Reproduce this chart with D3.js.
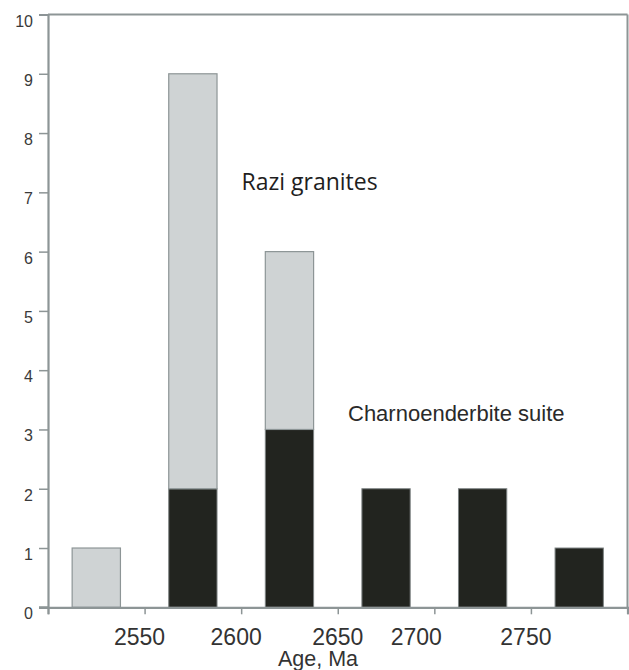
<!DOCTYPE html>
<html>
<head>
<meta charset="utf-8">
<script src="https://cdn.jsdelivr.net/npm/d3@7"></script>
<style>
  html, body { margin: 0; padding: 0; background: #fff; }
  svg { display: block; }
</style>
</head>
<body>
<svg id="chart" width="629" height="670"></svg>
<script>
// Age bins (Ma), lower edges; each bin is 50 Ma wide
const binStarts = [2500, 2550, 2600, 2650, 2700, 2750];
const binWidth = 50;
// Counts per bin for each group (stacked: charnoenderbite below, Razi on top)
const charnoenderbite = [0, 2, 3, 2, 2, 1];
const razi = [1, 7, 3, 0, 0, 0];
// Axis ticks
const yTicks = [0, 1, 2, 3, 4, 5, 6, 7, 8, 9, 10];
const xTickValues = [2500, 2550, 2600, 2650, 2700, 2750, 2800];
const xTickLabels = [2550, 2600, 2650, 2700, 2750];
// Small horizontal nudges for the age labels (px)
const xLabelNudge = [-5, -5, 0, -18, -5];

const svg = d3.select("#chart");
const axisColor = "#8d9596";

const x = d3.scaleLinear().domain([2500, 2800]).range([48, 627.5]);
const y = d3.scaleLinear().domain([0, 10]).range([607.3, 14.5]);

const rows = binStarts.map((b, i) => ({ start: b, low: charnoenderbite[i], high: razi[i] }));

const barInset = 12.5;
const g = svg.append("g");

// Lower segments: charnoenderbite suite
g.selectAll("rect.ch").data(rows.filter(d => d.low > 0)).join("rect")
  .attr("class", "ch")
  .attr("x", d => x(d.start + barInset))
  .attr("width", d => x(d.start + binWidth - barInset) - x(d.start + barInset))
  .attr("y", d => y(d.low))
  .attr("height", d => y(0) - y(d.low))
  .attr("fill", "#22241f")
  .attr("stroke", "#7d8383")
  .attr("stroke-width", 1);

// Upper segments: Razi granites
g.selectAll("rect.rz").data(rows.filter(d => d.high > 0)).join("rect")
  .attr("class", "rz")
  .attr("x", d => x(d.start + barInset))
  .attr("width", d => x(d.start + binWidth - barInset) - x(d.start + barInset))
  .attr("y", d => y(d.low + d.high))
  .attr("height", d => y(d.low) - y(d.low + d.high))
  .attr("fill", "#cfd3d4")
  .attr("stroke", "#8d9596")
  .attr("stroke-width", 1.2);

// Frame: top and right edges
svg.append("line")
  .attr("x1", x(2500)).attr("x2", x(2800))
  .attr("y1", y(10)).attr("y2", y(10))
  .attr("stroke", axisColor).attr("stroke-width", 2);
svg.append("line")
  .attr("x1", x(2800)).attr("x2", x(2800))
  .attr("y1", y(10)).attr("y2", y(0))
  .attr("stroke", axisColor).attr("stroke-width", 2);

// Y axis
const yAxis = svg.append("g")
  .attr("transform", `translate(${x(2500)},0)`)
  .call(d3.axisLeft(y).tickValues(yTicks).tickSize(9).tickPadding(6).tickFormat(d3.format("d")));
yAxis.select(".domain").attr("stroke", axisColor).attr("stroke-width", 2.2);
yAxis.selectAll(".tick line").attr("stroke", axisColor).attr("stroke-width", 1.5);
yAxis.selectAll(".tick text")
  .attr("fill", "#3a3a3a")
  .attr("font-family", "Liberation Sans, Arial, sans-serif")
  .attr("font-size", 16)
  .attr("dy", "0.72em");

// X axis
const xAxis = svg.append("g")
  .attr("transform", `translate(0,${y(0)})`)
  .call(d3.axisBottom(x).tickValues(xTickValues).tickSize(7).tickFormat(""));
xAxis.select(".domain").attr("stroke", axisColor).attr("stroke-width", 2.2);
xAxis.selectAll(".tick line").attr("stroke", axisColor).attr("stroke-width", 1.5);
// Extend baseline to the left under the zero tick
svg.append("line")
  .attr("x1", x(2500) - 9).attr("x2", x(2500))
  .attr("y1", y(0)).attr("y2", y(0))
  .attr("stroke", axisColor).attr("stroke-width", 2);

svg.append("g").selectAll("text").data(xTickLabels).join("text")
  .attr("x", (d, i) => x(d) + xLabelNudge[i])
  .attr("y", 645)
  .attr("text-anchor", "middle")
  .attr("font-family", "Liberation Sans, Arial, sans-serif")
  .attr("font-size", 23)
  .attr("fill", "#333")
  .text(d => d);

svg.append("text")
  .attr("x", 318).attr("y", 666)
  .attr("text-anchor", "middle")
  .attr("font-family", "Liberation Sans, Arial, sans-serif")
  .attr("font-size", 21.5)
  .attr("fill", "#333")
  .text("Age, Ma");

// Group labels
svg.append("text")
  .attr("x", 241.5).attr("y", 190)
  .attr("font-family", "Open Sans, sans-serif")
  .attr("font-size", 23)
  .attr("fill", "#1e1e1e")
  .text("Razi granites");

svg.append("text")
  .attr("x", 348).attr("y", 420.5)
  .attr("font-family", "Liberation Sans, Arial, sans-serif")
  .attr("font-size", 22)
  .attr("fill", "#2a2a2a")
  .text("Charnoenderbite suite");
</script>
</body>
</html>
